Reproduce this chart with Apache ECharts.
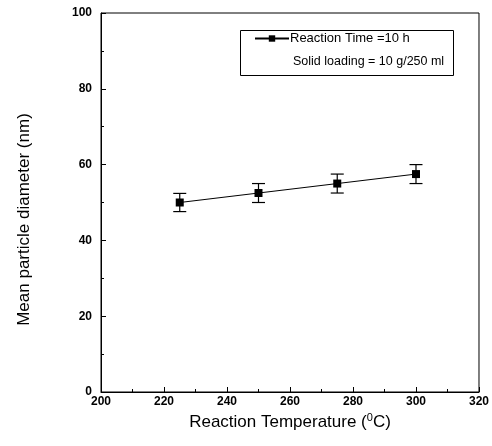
<!DOCTYPE html>
<html>
<head>
<meta charset="utf-8">
<script src="https://cdn.jsdelivr.net/npm/echarts@6/dist/echarts.min.js"></script>
<style>
  html, body { margin: 0; padding: 0; background: #fff; }
  #chart { width: 492px; height: 446px; }
</style>
</head>
<body>
<div id="chart"></div>
<script>
// reaction temperature (C) and mean particle diameter (nm)
const temperatures = [225, 250, 275, 300]
const diameters = [50, 52.5, 55, 57.5]
const errors = [2.4, 2.5, 2.5, 2.5]

const xTicks = { min: 200, max: 320, interval: 20 }
const yTicks = { min: 0, max: 100, interval: 20 }

const chart = echarts.init(document.getElementById('chart'))

const font = 'Liberation Sans, Arial, sans-serif'
const tickLabel = { color: '#000', fontFamily: font, fontWeight: 'bold', fontSize: 12 }

const lineData = temperatures.map((t, i) => [t, diameters[i]])
const errData = temperatures.map((t, i) => [t, diameters[i], errors[i]])

const option = {
  animation: false,
  grid: {
    left: 101,
    right: 12,
    top: 13,
    bottom: 54,
    show: true,
    borderColor: '#000',
    borderWidth: 1
  },
  legend: {
    left: 254,
    top: 32,
    padding: 0,
    itemWidth: 34,
    itemHeight: 8,
    itemGap: 0,
    data: ['Reaction Time =10 h'],
    textStyle: { color: '#000', fontFamily: font, fontSize: 13, padding: [0, 0, 0, -4] }
  },
  xAxis: {
    type: 'value',
    min: xTicks.min,
    max: xTicks.max,
    interval: xTicks.interval,
    name: '{a|Reaction Temperature (}{s|0}{a|C)}',
    nameLocation: 'middle',
    nameGap: 17,
    nameTextStyle: {
      rich: {
        a: { fontFamily: font, fontSize: 17, color: '#000' },
        s: { fontFamily: font, fontSize: 11, color: '#000', verticalAlign: 'bottom', padding: [0, 0, 7, 0] }
      }
    },
    axisLine: { lineStyle: { color: '#000', width: 1 } },
    axisTick: { inside: true, length: 5, lineStyle: { color: '#000' } },
    minorTick: { show: true, splitNumber: 2, length: 3, lineStyle: { color: '#000' } },
    splitLine: { show: false },
    axisLabel: Object.assign({ margin: 4 }, tickLabel)
  },
  yAxis: {
    type: 'value',
    min: yTicks.min,
    max: yTicks.max,
    interval: yTicks.interval,
    name: 'Mean particle diameter (nm)',
    nameLocation: 'middle',
    nameGap: 68,
    nameTextStyle: { fontFamily: font, fontSize: 17, color: '#000', padding: [0, 34, 0, 0] },
    axisLine: { lineStyle: { color: '#000', width: 1 } },
    axisTick: { inside: true, length: 5, lineStyle: { color: '#000' } },
    minorTick: { show: true, splitNumber: 2, length: 3, lineStyle: { color: '#000' } },
    splitLine: { show: false },
    axisLabel: Object.assign({ margin: 9 }, tickLabel)
  },
  graphic: [
    {
      type: 'rect',
      left: 238,
      top: 28,
      shape: { width: 213, height: 45 },
      style: { fill: 'none', stroke: '#000', lineWidth: 1 },
      z: 0
    },
    {
      type: 'text',
      left: 293,
      top: 55,
      style: { text: 'Solid loading = 10 g/250 ml', fill: '#000', font: '12.5px ' + font }
    }
  ],
  series: [
    {
      name: 'Reaction Time =10 h',
      type: 'line',
      data: lineData,
      symbol: 'rect',
      symbolSize: 8,
      lineStyle: { color: '#000', width: 1 },
      itemStyle: { color: '#000' },
      z: 3
    },
    {
      name: 'error',
      type: 'custom',
      data: errData,
      z: 2,
      renderItem: (params, api) => {
        const x = api.value(0)
        const y = api.value(1)
        const e = api.value(2)
        const hi = api.coord([x, y + e])
        const lo = api.coord([x, y - e])
        const w = 6.5
        const style = { stroke: '#000', lineWidth: 1.2 }
        return {
          type: 'group',
          children: [
            { type: 'line', shape: { x1: hi[0], y1: hi[1], x2: lo[0], y2: lo[1] }, style },
            { type: 'line', shape: { x1: hi[0] - w, y1: hi[1], x2: hi[0] + w, y2: hi[1] }, style },
            { type: 'line', shape: { x1: lo[0] - w, y1: lo[1], x2: lo[0] + w, y2: lo[1] }, style }
          ]
        }
      }
    }
  ]
}

chart.setOption(option)
window.addEventListener('resize', () => chart.resize())
</script>
</body>
</html>
